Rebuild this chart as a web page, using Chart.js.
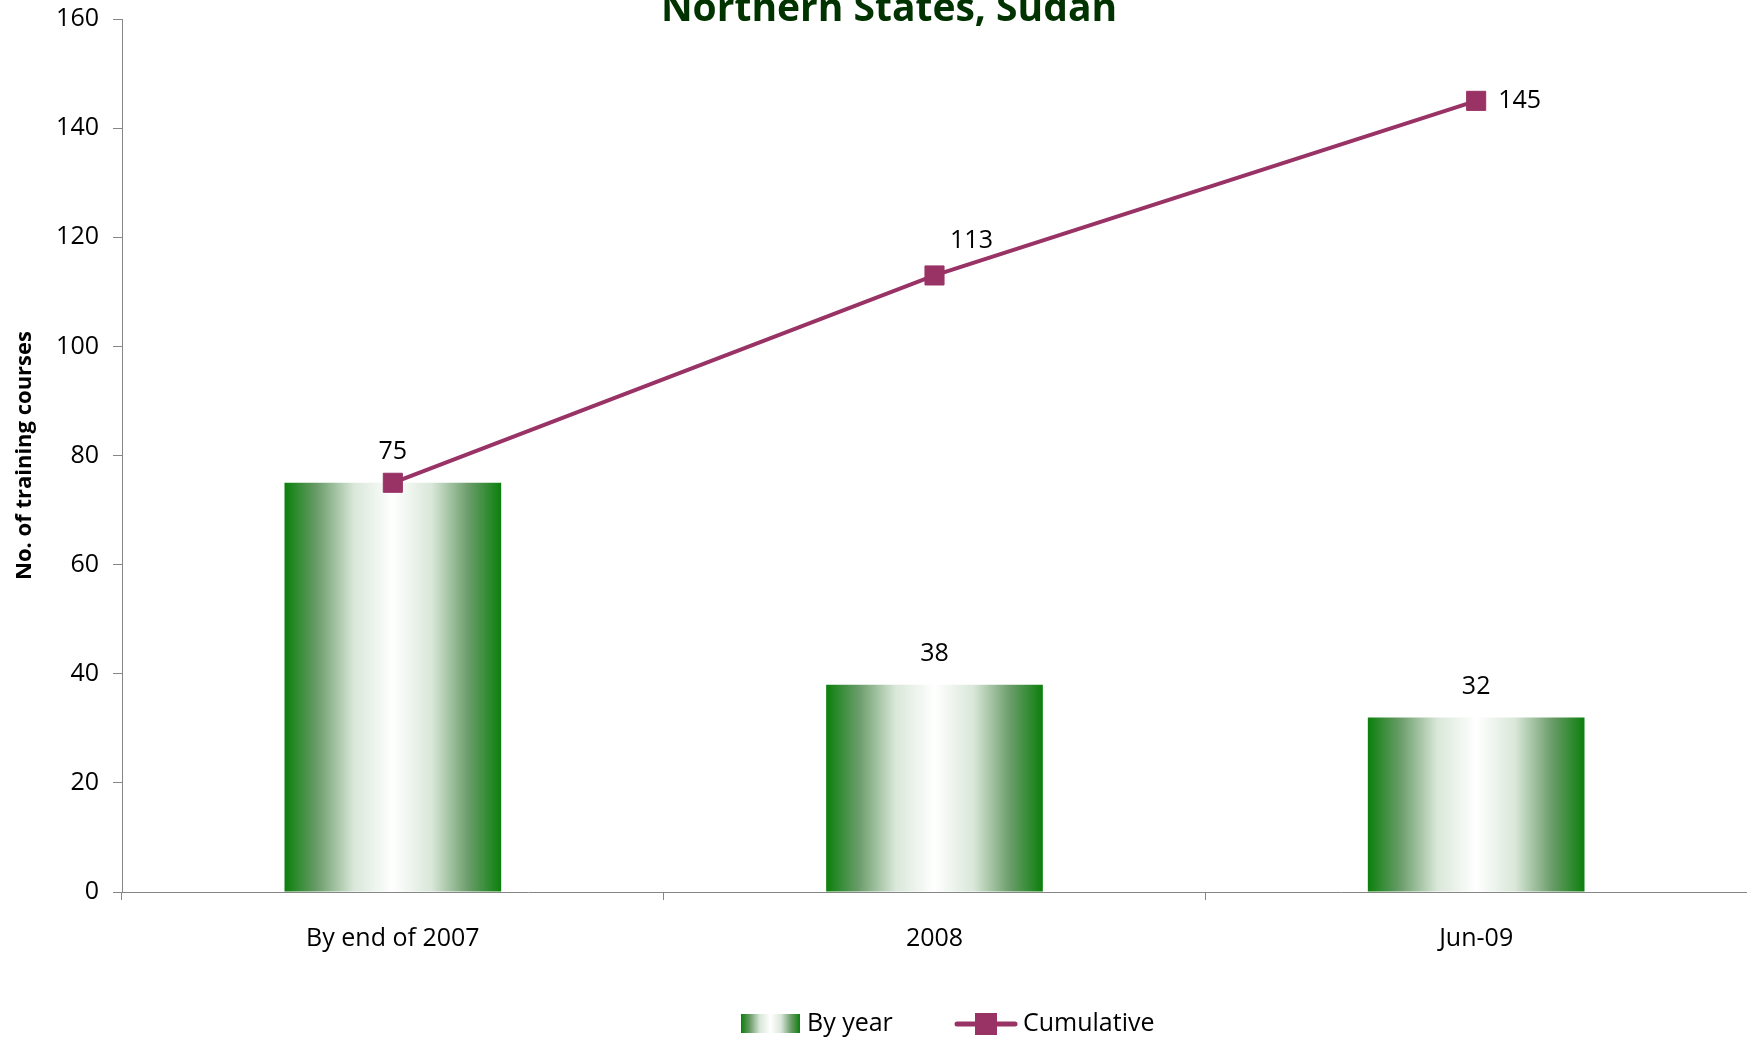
<!DOCTYPE html>
<html>
<head>
<meta charset="utf-8">
<script src="https://cdn.jsdelivr.net/npm/chart.js@4.4.1/dist/chart.umd.min.js"></script>
<style>
	html, body { margin: 0; padding: 0; background: #fff; }
	#wrap { width: 1747px; height: 1040px; }
</style>
</head>
<body>
<div id="wrap"><canvas id="ComboChart"></canvas></div>
<script>
const categories = ["By end of 2007", "2008", "Jun-09"]
const byYear = [75, 38, 32]
const cumulative = [75, 113, 145]
const yTicks = [0, 20, 40, 60, 80, 100, 120, 140, 160]
const seriesNames = ["By year", "Cumulative"]
const titleText = "Northern States, Sudan"
const yTitle = "No. of training courses"

const FONT = '"Open Sans", "Liberation Sans", sans-serif'
const LINE_COLOR = "#993366"
const AXIS_COLOR = "#868686"

// where each cumulative label sits relative to its marker
const lineLabelSpots = ["above", "aboveRight", "right"]

const greenFade = (ctx, x0, x1) => {
	const g = ctx.createLinearGradient(x0, 0, x1, 0)
	g.addColorStop(0, "#0b800b")
	g.addColorStop(0.15, "#6a9c6a")
	g.addColorStop(0.32, "#d9e7d9")
	g.addColorStop(0.5, "#ffffff")
	g.addColorStop(0.68, "#d9e7d9")
	g.addColorStop(0.85, "#6a9c6a")
	g.addColorStop(1, "#0b800b")
	return g
}

const titlePlugin = {
	id: "cutTitle",
	afterDraw(chart) {
		const ctx = chart.ctx
		ctx.save()
		ctx.font = "bold 39px " + FONT
		ctx.fillStyle = "#003300"
		ctx.textAlign = "center"
		ctx.textBaseline = "alphabetic"
		ctx.fillText(titleText, 889, 21)
		ctx.restore()
	},
}

const labelPlugin = {
	id: "valueLabels",
	afterDatasetsDraw(chart) {
		const ctx = chart.ctx
		ctx.save()
		ctx.font = "25px " + FONT
		ctx.fillStyle = "#000"
		ctx.textBaseline = "middle"
		chart.getDatasetMeta(0).data.forEach((bar, i) => {
			if (byYear[i] === cumulative[i]) return
			ctx.textAlign = "center"
			ctx.fillText(String(byYear[i]), bar.x, bar.y - 31)
		})
		chart.getDatasetMeta(1).data.forEach((p, i) => {
			const spot = lineLabelSpots[i]
			if (spot === "above") {
				ctx.textAlign = "center"
				ctx.fillText(String(cumulative[i]), p.x, p.y - 31)
			} else if (spot === "aboveRight") {
				ctx.textAlign = "center"
				ctx.fillText(String(cumulative[i]), p.x + 37, p.y - 35)
			} else {
				ctx.textAlign = "left"
				ctx.fillText(String(cumulative[i]), p.x + 22, p.y)
			}
		})
		ctx.restore()
	},
}

const legendPlugin = {
	id: "bottomLegend",
	afterDraw(chart) {
		const ctx = chart.ctx
		const y = 1024
		ctx.save()
		ctx.fillStyle = greenFade(ctx, 741, 800)
		ctx.fillRect(741, y - 10, 59, 19)
		ctx.strokeStyle = LINE_COLOR
		ctx.lineWidth = 5
		ctx.lineCap = "round"
		ctx.beginPath()
		ctx.moveTo(957, y)
		ctx.lineTo(1015, y)
		ctx.stroke()
		ctx.fillStyle = LINE_COLOR
		ctx.fillRect(975, y - 11, 22, 22)
		ctx.font = "25px " + FONT
		ctx.fillStyle = "#000"
		ctx.textAlign = "left"
		ctx.textBaseline = "middle"
		ctx.fillText(seriesNames[0], 807, y)
		ctx.fillText(seriesNames[1], 1023, y)
		ctx.restore()
	},
}

new Chart(document.getElementById("ComboChart"), {
	type: "bar",
	data: {
		labels: categories,
		datasets: [
			{
				type: "bar",
				label: seriesNames[0],
				data: byYear,
				order: 1,
				barPercentage: 0.4,
				categoryPercentage: 1,
				borderWidth: 0,
				backgroundColor: (c) => {
					const chart = c.chart
					if (!chart.chartArea || c.type !== "data") return "#0b800b"
					const x = chart.scales.x.getPixelForValue(c.dataIndex)
					const half = (chart.chartArea.width / categories.length) * 0.4 / 2
					return greenFade(chart.ctx, x - half, x + half)
				},
			},
			{
				type: "line",
				label: seriesNames[1],
				data: cumulative,
				order: 0,
				borderColor: LINE_COLOR,
				borderWidth: 4,
				tension: 0,
				pointStyle: "rect",
				pointRadius: 13.5,
				pointHoverRadius: 13.5,
				pointBackgroundColor: LINE_COLOR,
				pointBorderColor: LINE_COLOR,
				pointBorderWidth: 1,
			},
		],
	},
	options: {
		responsive: true,
		maintainAspectRatio: false,
		animation: false,
		layout: { autoPadding: false, padding: { top: 19, left: 0, right: -4, bottom: 0 } },
		plugins: {
			legend: { display: false },
			title: { display: false },
			tooltip: { enabled: false },
		},
		scales: {
			x: {
				offset: true,
				grid: { offset: true, drawOnChartArea: false, tickLength: 8, color: AXIS_COLOR },
				border: { color: AXIS_COLOR, width: 1 },
				ticks: { color: "#000", font: { family: FONT, size: 25 }, padding: 24, maxRotation: 0 },
				afterFit: (s) => {
					s.height = 148
					s.paddingLeft = 0
					s.paddingRight = 0
				},
			},
			y: {
				min: yTicks[0],
				max: yTicks[yTicks.length - 1],
				grid: { drawOnChartArea: false, tickLength: 9, color: AXIS_COLOR },
				border: { color: AXIS_COLOR, width: 1 },
				ticks: { stepSize: yTicks[1] - yTicks[0], color: "#000", font: { family: FONT, size: 25 }, padding: 14 },
				title: {
					display: true,
					text: yTitle,
					color: "#000",
					font: { family: FONT, size: 22, weight: "bold" },
					padding: { top: 12, bottom: 0 },
				},
				afterFit: (s) => {
					s.width = 122
					s.paddingTop = 0
					s.paddingBottom = 0
				},
			},
		},
	},
	plugins: [titlePlugin, labelPlugin, legendPlugin],
})
</script>
</body>
</html>
